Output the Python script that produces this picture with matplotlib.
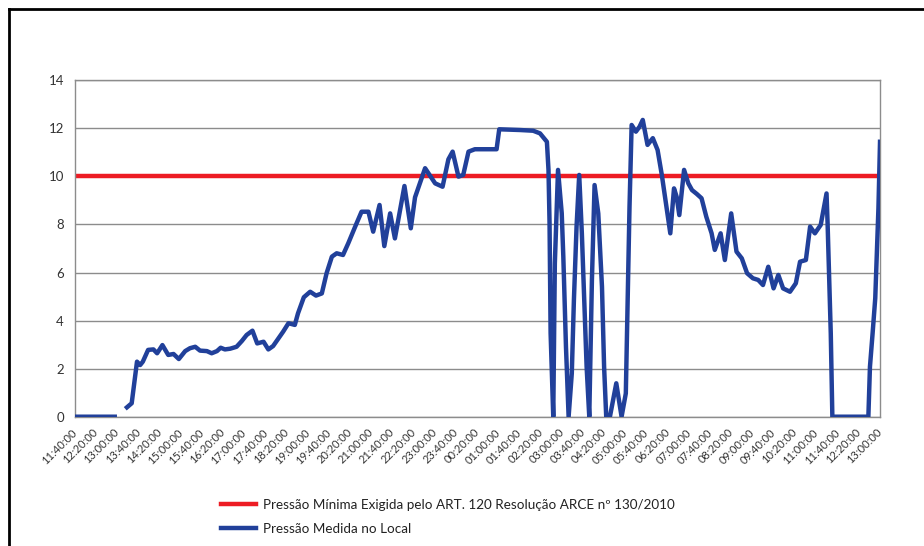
import numpy as np
import matplotlib
matplotlib.use("Agg")
import matplotlib.pyplot as plt
from matplotlib.lines import Line2D

plt.rcParams['font.family'] = ['Lato', 'DejaVu Sans']

# minutes elapsed since 11:40:00 (first day) and measured pressure
minutes = [0, 75, 86,
           98, 107, 117, 123, 128, 138, 148, 155, 165, 176,
           186, 196, 208, 217, 227, 236, 249, 258, 268, 275,
           283, 293, 305, 315, 324, 335, 344, 356, 365, 374,
           384, 393, 403, 415, 421, 432, 444, 455, 466, 475,
           485, 494, 506, 516, 529, 541, 554, 563, 575, 584,
           595, 604, 622, 634, 642, 661, 680, 694, 705, 713,
           724, 733, 743, 755, 796, 801, 840, 865, 878, 891,
           894, 896, 897, 898, 903, 906, 912, 919, 922, 927,
           932, 938, 942, 947, 952, 957, 962, 966, 971, 976,
           981, 988, 995, 999, 1003, 1010, 1022, 1032, 1040, 1043,
           1047, 1051, 1059, 1066, 1072, 1081, 1091, 1100, 1108, 1114,
           1124, 1131, 1136, 1141, 1150, 1158, 1165, 1174, 1183, 1192,
           1202, 1208, 1219, 1227, 1239, 1249, 1259, 1269, 1280, 1290,
           1299, 1309, 1319, 1328, 1337, 1350, 1361, 1369, 1380, 1388,
           1397, 1408, 1419, 1421, 1424, 1427, 1429, 1430, 1498, 1501,
           1506, 1511, 1514, 1517, 1519, 1520]
pressure = [0.0, 0.0, np.nan,
            0.39, 0.56, 2.29, 2.15, 2.29, 2.78, 2.80, 2.64, 2.98, 2.57,
            2.61, 2.40, 2.73, 2.85, 2.91, 2.75, 2.73, 2.64, 2.73, 2.87,
            2.80, 2.83, 2.91, 3.15, 3.40, 3.58, 3.05, 3.12, 2.80, 2.94,
            3.26, 3.54, 3.89, 3.82, 4.30, 4.97, 5.20, 5.04, 5.13, 5.97,
            6.66, 6.80, 6.73, 7.22, 7.91, 8.53, 8.53, 7.70, 8.81, 7.10,
            8.46, 7.42, 9.60, 7.84, 9.13, 10.34, 9.71, 9.57, 10.71, 11.03,
            9.99, 10.06, 11.03, 11.13, 11.13, 11.96, 11.93, 11.90, 11.79, 11.44,
            10.27, 8.05, 5.76, 3.47, 0.0, 6.38, 10.27, 8.47, 6.66, 2.91,
            0.0, 1.80, 4.86, 7.91, 10.06, 7.63, 4.58, 2.08, 0.0, 5.69,
            9.64, 8.46, 5.41, 2.08, 0.0, 0.0, 1.39, 0.0, 0.97, 4.30,
            8.74, 12.14, 11.86, 12.07, 12.35, 11.31, 11.59, 11.10, 10.06, 9.15,
            7.63, 9.50, 9.15, 8.39, 10.27, 9.71, 9.43, 9.27, 9.09, 8.32,
            7.63, 6.94, 7.63, 6.52, 8.46, 6.87, 6.59, 5.97, 5.76, 5.69,
            5.48, 6.24, 5.34, 5.90, 5.34, 5.20, 5.55, 6.45, 6.52, 7.91,
            7.63, 7.98, 9.29, 8.05, 5.69, 3.47, 1.18, 0.0, 0.0, 2.08,
            3.47, 4.93, 6.80, 8.67, 10.55, 11.44]

min_pressure = 10.0

tick_minutes = list(range(0, 1521, 40))
tick_labels = ['11:40:00', '12:20:00', '13:00:00', '13:40:00', '14:20:00',
               '15:00:00', '15:40:00', '16:20:00', '17:00:00', '17:40:00',
               '18:20:00', '19:00:00', '19:40:00', '20:20:00', '21:00:00',
               '21:40:00', '22:20:00', '23:00:00', '23:40:00', '00:20:00',
               '01:00:00', '01:40:00', '02:20:00', '03:00:00', '03:40:00',
               '04:20:00', '05:00:00', '05:40:00', '06:20:00', '07:00:00',
               '07:40:00', '08:20:00', '09:00:00', '09:40:00', '10:20:00',
               '11:00:00', '11:40:00', '12:20:00', '13:00:00']

label_min = 'Pressão Mínima Exigida pelo ART. 120 Resolução ARCE nº 130/2010'
label_meas = 'Pressão Medida no Local'

fig = plt.figure(figsize=(9.24, 5.46), dpi=100)
ax = fig.add_axes([0.0812, 0.2368, 0.8712, 0.6162])

ax.axhline(min_pressure, color='#ed1c24', linewidth=3.2, label=label_min, zorder=2)
ax.plot(minutes, pressure, color='#21409a', linewidth=3.2, label=label_meas, zorder=3)

ax.set_xlim(tick_minutes[0], tick_minutes[-1])
ax.set_ylim(0, 14)
ax.set_yticks(range(0, 15, 2))
ax.yaxis.grid(True, color='#8c8c8c', linewidth=1.0)
ax.set_axisbelow(True)
for s in ax.spines.values():
    s.set_color('#8c8c8c')
    s.set_linewidth(1.0)

ax.set_xticks(tick_minutes)
ax.set_xticklabels(tick_labels, rotation=45, ha='right', va='center',
                   rotation_mode='anchor', fontsize=8, color='#333333')
ax.tick_params(axis='x', length=0, pad=10)
ax.tick_params(axis='y', length=0, pad=8, labelsize=9.5, labelcolor='#333333')

fig.legend(loc='upper left', bbox_to_anchor=(221 / 924, 1 - 499 / 546),
           frameon=False, fontsize=9.7, borderpad=0, borderaxespad=0,
           handlelength=2.6, handletextpad=0.5, labelspacing=0.9,
           labelcolor='#222222')

# black frame on the top and left edges of the picture
fig.add_artist(Line2D([9 / 924, 9 / 924], [0, 1 - 9 / 546], color='black',
                      linewidth=2, transform=fig.transFigure))
fig.add_artist(Line2D([9 / 924, 1], [1 - 9 / 546, 1 - 9 / 546], color='black',
                      linewidth=2, transform=fig.transFigure))

fig.savefig('out.png', dpi=100)
